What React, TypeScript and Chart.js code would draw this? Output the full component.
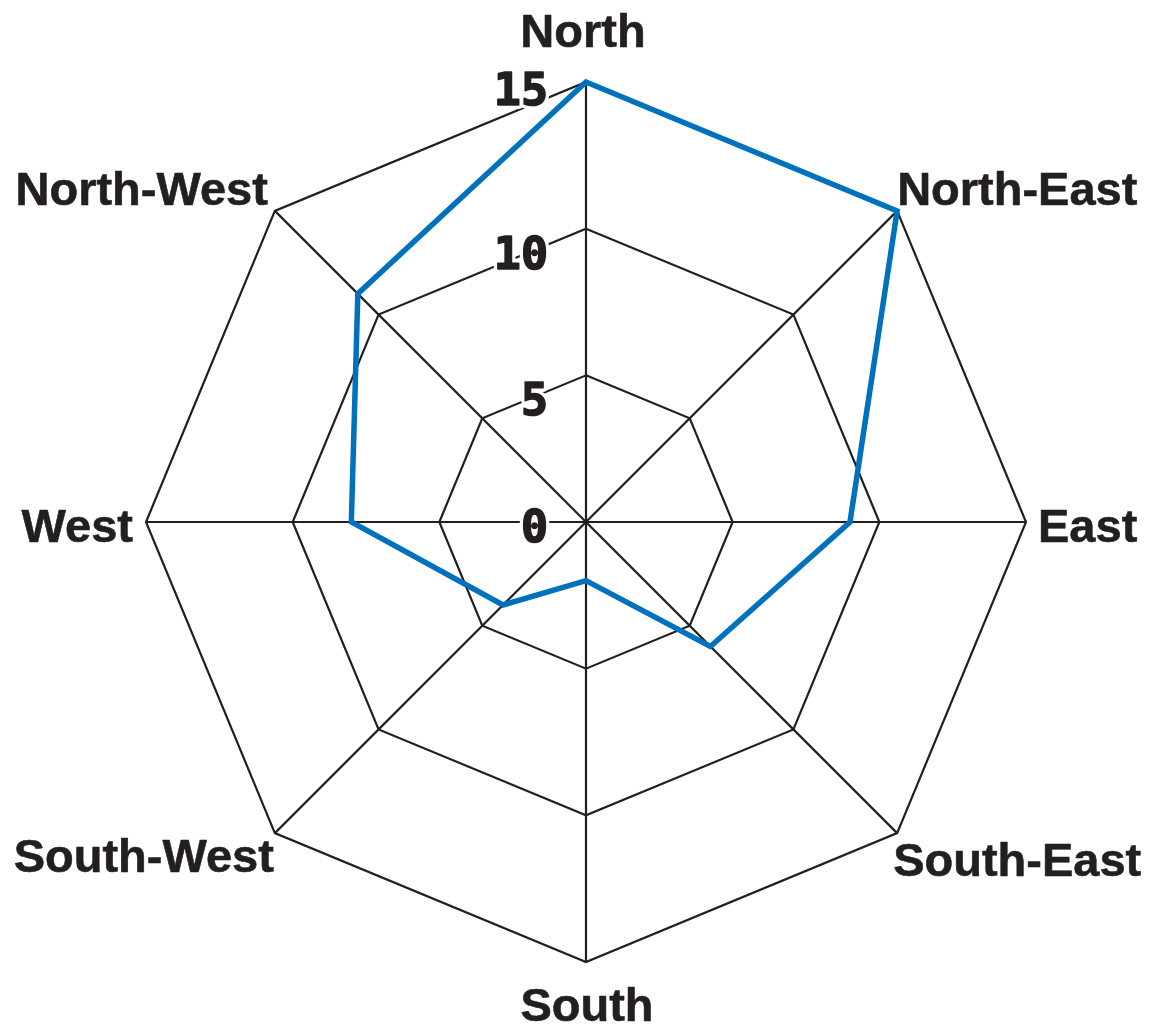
import { useEffect, useRef } from "react";
import { Chart, registerables } from "chart.js";

Chart.register(...registerables);

const directions = [
  "North",
  "North-East",
  "East",
  "South-East",
  "South",
  "South-West",
  "West",
  "North-West",
];
const windValues = [15, 15, 9, 6, 2, 4, 8, 11];
const tickValues = [0, 5, 10, 15];
const tickLabels = ["0", "5", "10", "15"];

const INK = "#231f20";
const BLUE = "#0071bc";

const compassLabels = {
  id: "compassLabels",
  beforeDatasetsDraw(chart: any, _args: any, opts: any) {
    const scale = chart.scales.r;
    const ctx = chart.ctx;
    ctx.save();
    ctx.font = "bold 45px 'DejaVu Sans Mono'";
    ctx.textAlign = "right";
    ctx.textBaseline = "alphabetic";
    ctx.lineJoin = "round";
    tickValues.forEach((v, i) => {
      const x = scale.xCenter + opts.tickDx;
      const y =
        scale.yCenter - scale.getDistanceFromCenterForValue(v) + opts.tickDy[i];
      ctx.strokeStyle = "#ffffff";
      ctx.lineWidth = 8;
      ctx.strokeText(tickLabels[i], x, y);
      ctx.strokeStyle = INK;
      ctx.lineWidth = 1.6;
      ctx.strokeText(tickLabels[i], x, y);
      ctx.fillStyle = INK;
      ctx.fillText(tickLabels[i], x, y);
    });
    ctx.restore();
  },
  afterDatasetsDraw(chart: any, _args: any, opts: any) {
    const scale = chart.scales.r;
    const ctx = chart.ctx;
    const labels = chart.data.labels as string[];
    ctx.save();
    ctx.font = "bold 47px 'Liberation Sans', Arial, sans-serif";
    ctx.fillStyle = INK;
    ctx.strokeStyle = INK;
    ctx.lineWidth = 0.6;
    ctx.lineJoin = "round";
    ctx.textBaseline = "alphabetic";
    labels.forEach((label, i) => {
      const p = scale.getPointPosition(i, scale.drawingArea);
      const deg = Math.round((scale.getIndexAngle(i) * 180) / Math.PI) % 360;
      ctx.textAlign = deg === 0 || deg === 180 ? "center" : deg < 180 ? "left" : "right";
      const off = opts.labelOffsets[i];
      ctx.fillText(label, p.x + off[0], p.y + off[1]);
      ctx.strokeText(label, p.x + off[0], p.y + off[1]);
    });
    ctx.restore();
  },
};

export default function App() {
  const ref = useRef<HTMLCanvasElement | null>(null);

  useEffect(() => {
    if (!ref.current) return;
    const chart = new Chart(ref.current, {
      type: "radar",
      data: {
        labels: directions,
        datasets: [
          {
            label: "Wind",
            data: windValues,
            borderColor: BLUE,
            borderWidth: 5.5,
            backgroundColor: "rgba(0,0,0,0)",
            fill: false,
            pointRadius: 0,
            pointHoverRadius: 0,
            tension: 0,
            borderJoinStyle: "miter",
          },
        ],
      },
      options: {
        animation: false,
        responsive: true,
        maintainAspectRatio: false,
        layout: { padding: { left: 146, right: 130, top: 82, bottom: 66 } },
        plugins: {
          legend: { display: false },
          tooltip: { enabled: false },
          compassLabels: {
            tickDx: -38,
            tickDy: [20, 40, 40, 23],
            labelOffsets: [
              [-3, -35],
              [0, -6],
              [12, 20],
              [-4, 43],
              [1, 59],
              [-1, 39],
              [-13, 20],
              [-7, -6],
            ],
          },
        } as any,
        scales: {
          r: {
            min: 0,
            max: 15,
            startAngle: 0,
            ticks: { display: false, stepSize: 5 },
            pointLabels: { display: false },
            grid: { color: INK, lineWidth: 2.2, circular: false },
            angleLines: { display: true, color: INK, lineWidth: 2.2 },
          },
        },
      },
      plugins: [compassLabels as any],
    });
    return () => chart.destroy();
  }, []);

  return (
    <div
      style={{
        position: "fixed",
        left: 0,
        top: 0,
        width: 1156,
        height: 1028,
        background: "#ffffff",
      }}
    >
      <canvas ref={ref} style={{ display: "block" }} />
    </div>
  );
}
